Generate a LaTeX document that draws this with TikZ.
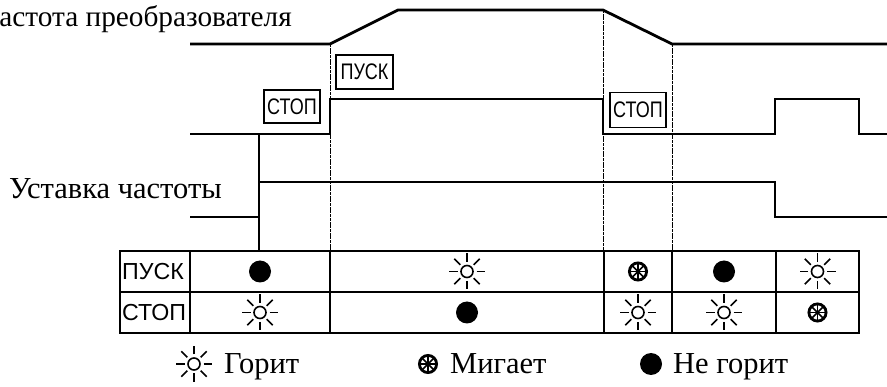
\documentclass[tikz,border=0pt]{standalone}
\usepackage{fontspec}
\setmainfont{Liberation Serif}
\newfontfamily\cellsans{Liberation Sans}
\newfontfamily\tagsans[FakeStretch=0.8]{Liberation Sans}

\tikzset{
  signal/.style={line width=2.8pt, line join=miter},
  gridline/.style={line width=2.6pt},
  guide/.style={line width=0.8pt, dash pattern=on 3pt off 0.7pt},
  tagbox/.style={draw, line width=1.3pt, inner sep=0pt,
    font=\tagsans\fontsize{22.5}{22.5}\selectfont},
  caption/.style={font=\fontsize{30.5}{30.5}\selectfont, inner sep=0pt},
  celltext/.style={font=\cellsans\fontsize{23.2}{23.2}\selectfont, inner sep=0pt},
  lamp on/.pic={
    \draw[line width=1.6pt] (0,0) circle (6pt);
    \foreach \a in {0,45,...,315}
      \draw[line width=1.6pt] (\a:9.5pt) -- (\a:18pt);
  },
  lamp blink/.pic={
    \draw[line width=2.8pt] (0,0) circle (8.6pt);
    \foreach \a in {0,45,90,135}
      \draw[line width=1.7pt] (\a:8.3pt) -- (\a+180:8.3pt);
  },
  lamp off/.pic={
    \fill (0,0) circle (11pt);
  }
}

\begin{document}
\begin{tikzpicture}[x=1pt, y=-1pt]
  \useasboundingbox (0,0) rectangle (887,387);
  \clip (0,0) rectangle (887,387);

  % signal captions
  \node[caption, anchor=base east, font=\fontsize{29.3}{29.3}\selectfont] (fcap) at (292,27) {Частота преобразователя};
  \node[caption, anchor=base east] (scap) at (222,199) {Уставка частоты};

  % time markers
  \coordinate (g1t) at (330,44);  \coordinate (g1b) at (330,251);
  \coordinate (g2t) at (603,10);  \coordinate (g2b) at (603,251);
  \coordinate (g3t) at (672,44);  \coordinate (g3b) at (672,251);
  \draw[guide] (g1t) -- (g1b);
  \draw[guide] (g2t) -- (g2b);
  \draw[guide] (g3t) -- (g3b);

  % output frequency
  \draw[signal] (190,44) -- (330,44) -- (398,10) -- (603,10) -- (672,44) -- (887,44);
  % run signal
  \draw[signal] (190,134) -- (330,134) -- (330,99) -- (603,99) -- (603,134)
    -- (775,134) -- (775,99) -- (859,99) -- (859,134) -- (887,134);
  % frequency setpoint
  \draw[signal] (190,217) -- (259,217) -- (259,182) -- (775,182) -- (775,217) -- (887,217);
  \coordinate (sp) at (259,134); \coordinate (spb) at (259,251);
  \draw[signal] (sp) -- (spb);

  % key tags
  \node[tagbox, minimum width=57, minimum height=34] (tagrun) at (364.5,72) {ПУСК};
  \node[tagbox, minimum width=56, minimum height=33] (tagstop1) at (292,106.5) {СТОП};
  \node[tagbox, minimum width=56, minimum height=35] (tagstop2) at (638,110) {СТОП};

  % indicator table
  \draw[gridline] (120,251) rectangle (859,333);
  \draw[gridline] (120,292) -- (859,292);
  \foreach \x in {190,330,604,672,776}
    \draw[gridline] (\x,251) -- (\x,333);
  \node[celltext, anchor=west] (rowrun) at (122,271.5) {ПУСК};
  \node[celltext, anchor=west] (rowstop) at (122,312.5) {СТОП};

  % run key row
  \pic at (260,271.5) {lamp off};
  \pic at (467,271.5) {lamp on};
  \pic at (638,271.5) {lamp blink};
  \pic at (724,271.5) {lamp off};
  \pic at (817.5,271.5) {lamp on};
  % stop key row
  \pic at (260,312.5) {lamp on};
  \pic at (467,312.5) {lamp off};
  \pic at (638,312.5) {lamp on};
  \pic at (724,312.5) {lamp on};
  \pic at (817.5,312.5) {lamp blink};

  % legend
  \pic at (194,364) {lamp on};
  \node[caption, anchor=base west] (lgon) at (224,374) {Горит};
  \pic at (428,364) {lamp blink};
  \node[caption, anchor=base west] (lgblink) at (450,374) {Мигает};
  \pic at (651,364) {lamp off};
  \node[caption, anchor=base west] (lgoff) at (673,374) {Не горит};
\end{tikzpicture}
\end{document}
